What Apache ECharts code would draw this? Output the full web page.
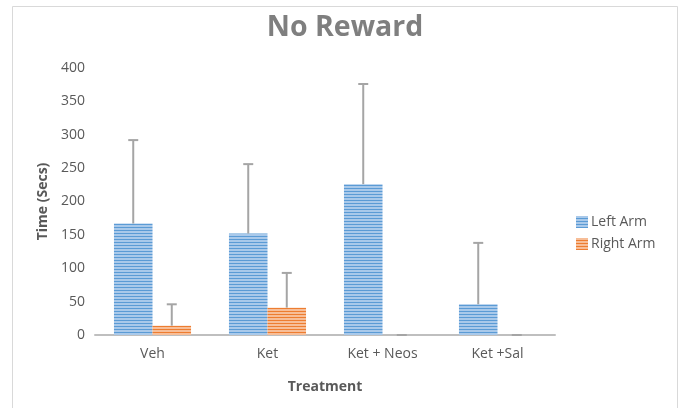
<!DOCTYPE html>
<html><head><meta charset="utf-8">
<script src="https://cdn.jsdelivr.net/npm/echarts@6/dist/echarts.min.js"></script>
<style>html,body{margin:0;padding:0;background:#fff}#c{width:683px;height:408px}</style>
</head><body><div id="c"></div>
<script>
const categories = ['Veh', 'Ket', 'Ket + Neos', 'Ket +Sal'];
const leftArm = [167, 152, 226, 46];
const leftArmErr = [125, 104, 150, 92];
const rightArm = [14, 41, 0, 0];
const rightArmErr = [32, 52, 0, 0];
const yTicks = [0, 50, 100, 150, 200, 250, 300, 350, 400];

function stripe(light, dark) {
  const c = document.createElement('canvas');
  c.width = 4; c.height = 3;
  const g = c.getContext('2d');
  g.fillStyle = light; g.fillRect(0, 0, 4, 3);
  g.fillStyle = dark; g.fillRect(0, 2, 4, 1);
  return { image: c, repeat: 'repeat' };
}
const bluePat = stripe('#A9C9EA', '#5B9BD5');
const orangePat = stripe('#F7BE98', '#ED7D31');

const GAP = 0.33;
function errSeries(vals, errs, side) {
  return {
    type: 'custom',
    z: 5,
    silent: true,
    data: vals.map((v, i) => [i, v, errs[i]]),
    renderItem: function (params, api) {
      const i = api.value(0), v = api.value(1), e = api.value(2);
      const band = api.size([1, 0])[0];
      const bw = band * (1 - GAP) / 2;
      const p0 = api.coord([i, v]);
      const p1 = api.coord([i, v + e]);
      const x = p0[0] + side * bw / 2;
      const cap = 10;
      const st = { stroke: '#A5A5A5', lineWidth: 2 };
      return {
        type: 'group',
        children: [
          { type: 'line', shape: { x1: x, y1: p0[1], x2: x, y2: p1[1] }, style: st },
          { type: 'line', shape: { x1: x - cap / 2, y1: p1[1], x2: x + cap / 2, y2: p1[1] }, style: st }
        ]
      };
    }
  };
}

const chart = echarts.init(document.getElementById('c'));
chart.setOption({
  animation: false,
  backgroundColor: '#fff',
  textStyle: { fontFamily: 'Open Sans' },
  graphic: [{
    type: 'rect', shape: { x: 12.5, y: 6.5, width: 665, height: 420 },
    style: { fill: 'none', stroke: '#D9D9D9', lineWidth: 1 }, z: -1
  }],
  title: {
    text: 'No Reward', left: 340, top: 8, textAlign: 'center',
    textStyle: { fontFamily: 'Open Sans', fontWeight: 'bold', fontSize: 28.5, color: '#7F7F7F' }
  },
  legend: {
    orient: 'vertical', left: 571, top: 210, itemWidth: 12, itemHeight: 12, itemGap: 8,
    icon: 'rect',
    textStyle: { color: '#595959', fontSize: 14, fontFamily: 'Open Sans', padding: [0, 0, 0, -2] },
    data: ['Left Arm', 'Right Arm']
  },
  grid: { left: 95, right: 128, top: 68, bottom: 73 },
  xAxis: {
    type: 'category', data: categories,
    name: 'Treatment', nameLocation: 'middle', nameGap: 45,
    nameTextStyle: { fontWeight: 'bold', fontSize: 14, color: '#595959' },
    axisLine: { lineStyle: { color: '#BFBFBF', width: 2 } },
    axisTick: { show: false },
    axisLabel: { color: '#595959', fontSize: 14, margin: 12 }
  },
  yAxis: {
    type: 'value', min: 0, max: 400, interval: 50,
    name: 'Time (Secs)', nameLocation: 'middle', nameGap: 44,
    nameTextStyle: { fontWeight: 'bold', fontSize: 14, color: '#595959' },
    axisLine: { show: false }, axisTick: { show: false }, splitLine: { show: false },
    axisLabel: { color: '#595959', fontSize: 14, margin: 10,
      formatter: v => yTicks.includes(v) ? String(v) : '' }
  },
  series: [
    { name: 'Left Arm', type: 'bar', data: leftArm, barGap: '0%', barCategoryGap: '33%',
      itemStyle: { color: bluePat } },
    { name: 'Right Arm', type: 'bar', data: rightArm, barGap: '0%', barCategoryGap: '33%',
      itemStyle: { color: orangePat } },
    errSeries(leftArm, leftArmErr, -1),
    errSeries(rightArm, rightArmErr, 1)
  ]
});
</script></body></html>
